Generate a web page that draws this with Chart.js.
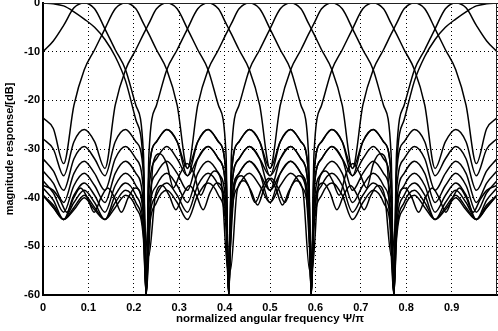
<!DOCTYPE html>
<html>
<head>
<meta charset="utf-8">
<script src="https://cdn.jsdelivr.net/npm/chart.js@4.4.0/dist/chart.umd.min.js"></script>
<style>
  html, body { margin: 0; padding: 0; background: #fff; }
  #chart { display: block; }
</style>
</head>
<body>
<canvas id="chart" width="498" height="331"></canvas>
<script>
// normalized angular frequency (psi / pi) sample points for the inner channels
const freqs = [0,0.0227,0.0455,0.0682,0.0909,0.1136,0.1364,0.1591,0.1818,0.2045,0.2213,0.2273,0.2333,0.25,0.2727,0.2955,0.3182,0.3409,0.3636,0.3864,0.4031,0.4091,0.4151,0.4318,0.4545,0.4773,0.5,0.5227,0.5455,0.5682,0.5849,0.5909,0.5969,0.6136,0.6364,0.6591,0.6818,0.7045,0.7273,0.75,0.7667,0.7727,0.7787,0.7955,0.8182,0.8409,0.8636,0.8864,0.9091,0.9318,0.9545,0.9773,1];

// sample points for the two edge channels (their sidelobes are narrower)
const edgeFreqsLo = [0,0.0227,0.0455,0.0682,0.0909,0.1136,0.1364,0.1591,0.1818,0.2045,0.2213,0.2273,0.2423,0.2573,0.2723,0.2873,0.3023,0.3173,0.3323,0.3473,0.3623,0.3773,0.3923,0.4073,0.4223,0.4373,0.4523,0.4673,0.4823,0.4973,0.5123,0.5273,0.5423,0.5573,0.5723,0.5873,0.6023,0.6173,0.6323,0.6473,0.6623,0.6773,0.6923,0.7073,0.7223,0.7373,0.7523,0.7673,0.7823,0.7973,0.8123,0.8273,0.8423,0.8573,0.8723,0.8873,0.9023,0.9173,0.9323,0.9473,0.9623,0.9773,1];
const edgeFreqsHi = [0,0.0227,0.0377,0.0527,0.0677,0.0827,0.0977,0.1127,0.1277,0.1427,0.1577,0.1727,0.1877,0.2027,0.2177,0.2327,0.2477,0.2627,0.2777,0.2927,0.3077,0.3227,0.3377,0.3527,0.3677,0.3827,0.3977,0.4127,0.4277,0.4427,0.4577,0.4727,0.4877,0.5027,0.5177,0.5327,0.5477,0.5627,0.5777,0.5927,0.6077,0.6227,0.6377,0.6527,0.6677,0.6827,0.6977,0.7127,0.7277,0.7427,0.7577,0.7727,0.7787,0.7955,0.8182,0.8409,0.8636,0.8864,0.9091,0.9318,0.9545,0.9773,1];

// magnitude response in dB, one array per channel
const band0 = [0,-0.15,-0.6,-1.8,-3.3,-5,-7.5,-11,-16,-24,-34,-60,-33,-31,-33,-38,-35,-33,-35,-39.5,-36.5,-34.5,-36.5,-55,-37.5,-35.5,-37.5,-41,-38,-36,-38,-41.5,-38.5,-36.5,-38.5,-55,-39,-37,-39,-42.5,-39.5,-37.5,-39.5,-42.5,-39.5,-37.5,-39.5,-52,-40,-38,-40,-43,-40,-38,-40,-43,-40,-38,-40,-43,-40.5,-38.5,-37.5];
const band1 = [-10,-7.8,-4.6,-1,0,-1.2,-5.3,-9.6,-13.7,-21,-31,-60,-35,-28.5,-26,-28.5,-35.5,-32,-29.5,-32,-38.5,-60,-41.5,-35,-32.5,-35,-41,-37.5,-35,-37.5,-44,-60,-46,-39.5,-37,-39.5,-44.5,-41,-38.5,-41,-47.5,-60,-48.5,-42,-39.5,-42,-44.5,-42.5,-40,-42.5,-44.5,-41.5,-39.5];
const band2 = [-23.6,-25.8,-33,-21,-13.7,-9.6,-5.3,-1.2,0,-1.2,-4.2,-5.3,-6.4,-9.6,-13.7,-21,-34,-28.5,-26,-28.5,-35,-60,-38.5,-32,-29.5,-32,-38.5,-35,-32.5,-35,-41.5,-60,-44,-37.5,-35,-37.5,-43,-39.5,-37,-39.5,-46,-60,-47.5,-41,-38.5,-41,-44.5,-42,-39.5,-42,-44.5,-42,-39.5];
const band3 = [-27.9,-30,-35.5,-28.5,-26,-28.5,-34,-21,-13.7,-9.6,-6.4,-5.3,-4.2,-1.2,0,-1.2,-5.3,-9.6,-13.7,-21,-31,-60,-35,-28.5,-26,-28.5,-35.5,-32,-29.5,-32,-38.5,-60,-41.5,-35,-32.5,-35,-41,-37.5,-35,-37.5,-44,-60,-46,-39.5,-37,-39.5,-44.5,-41,-38.5,-41,-44.5,-42,-39.5];
const band4 = [-32,-34.5,-38.5,-32,-29.5,-32,-35.5,-28.5,-26,-28.5,-35,-60,-31,-21,-13.7,-9.6,-5.3,-1.2,0,-1.2,-4.2,-5.3,-6.4,-9.6,-13.7,-21,-34,-28.5,-26,-28.5,-35,-60,-38.5,-32,-29.5,-32,-38.5,-35,-32.5,-35,-41.5,-60,-44,-37.5,-35,-37.5,-43,-39.5,-37,-39.5,-44.5,-40.5,-38];
const band5 = [-34.5,-37,-41,-35,-32.5,-35,-38.5,-32,-29.5,-32,-38.5,-60,-35,-28.5,-26,-28.5,-34,-21,-13.7,-9.6,-6.4,-5.3,-4.2,-1.2,0,-1.2,-5.3,-9.6,-13.7,-21,-31,-60,-35,-28.5,-26,-28.5,-35.5,-32,-29.5,-32,-38.5,-60,-41.5,-35,-32.5,-35,-41,-37.5,-35,-37.5,-43,-39,-36.5];
const band6 = [-36.5,-39,-43,-37.5,-35,-37.5,-41,-35,-32.5,-35,-41.5,-60,-38.5,-32,-29.5,-32,-35.5,-28.5,-26,-28.5,-35,-60,-31,-21,-13.7,-9.6,-5.3,-1.2,0,-1.2,-4.2,-5.3,-6.4,-9.6,-13.7,-21,-34,-28.5,-26,-28.5,-35,-60,-38.5,-32,-29.5,-32,-38.5,-35,-32.5,-35,-41,-37,-34.5];
const band7 = [-38,-40.5,-44.5,-39.5,-37,-39.5,-43,-37.5,-35,-37.5,-44,-60,-41.5,-35,-32.5,-35,-38.5,-32,-29.5,-32,-38.5,-60,-35,-28.5,-26,-28.5,-34,-21,-13.7,-9.6,-6.4,-5.3,-4.2,-1.2,0,-1.2,-5.3,-9.6,-13.7,-21,-31,-60,-35,-28.5,-26,-28.5,-35.5,-32,-29.5,-32,-38.5,-34.5,-32];
const band8 = [-39.5,-42,-44.5,-41,-38.5,-41,-44.5,-39.5,-37,-39.5,-46,-60,-44,-37.5,-35,-37.5,-41,-35,-32.5,-35,-41.5,-60,-38.5,-32,-29.5,-32,-35.5,-28.5,-26,-28.5,-35,-60,-31,-21,-13.7,-9.6,-5.3,-1.2,0,-1.2,-4.2,-5.3,-6.4,-9.6,-13.7,-21,-34,-28.5,-26,-28.5,-35.5,-30,-27.9];
const band9 = [-39.5,-42,-44.5,-42,-39.5,-42,-44.5,-41,-38.5,-41,-47.5,-60,-46,-39.5,-37,-39.5,-43,-37.5,-35,-37.5,-44,-60,-41.5,-35,-32.5,-35,-38.5,-32,-29.5,-32,-38.5,-60,-35,-28.5,-26,-28.5,-34,-21,-13.7,-9.6,-6.4,-5.3,-4.2,-1.2,0,-1.2,-5.3,-9.6,-13.7,-21,-33,-25.8,-23.6];
const band10 = [-39.5,-41.5,-44.5,-42.5,-40,-42.5,-44.5,-42,-39.5,-42,-48.5,-60,-47.5,-41,-38.5,-41,-44.5,-39.5,-37,-39.5,-46,-60,-44,-37.5,-35,-37.5,-41,-35,-32.5,-35,-41.5,-60,-38.5,-32,-29.5,-32,-35.5,-28.5,-26,-28.5,-35,-60,-31,-21,-13.7,-9.6,-5.3,-1.2,0,-1,-4.6,-7.8,-10];
const band11 = [-37.5,-38.5,-40.5,-43,-40,-38,-40,-43,-40,-38,-40,-43,-40,-38,-40,-52,-39.5,-37.5,-39.5,-42.5,-39.5,-37.5,-39.5,-42.5,-39,-37,-39,-55,-38.5,-36.5,-38.5,-41.5,-38,-36,-38,-41,-37.5,-35.5,-37.5,-55,-36.5,-34.5,-36.5,-39.5,-35,-33,-35,-38,-33,-31,-33,-60,-34,-24,-16,-11,-7.5,-5,-3.3,-1.8,-0.6,-0.15,0];

const channels = [
  [edgeFreqsLo, band0], [freqs, band1], [freqs, band2], [freqs, band3],
  [freqs, band4], [freqs, band5], [freqs, band6], [freqs, band7],
  [freqs, band8], [freqs, band9], [freqs, band10], [edgeFreqsHi, band11]
];

const xTicks = [0, 0.1, 0.2, 0.3, 0.4, 0.5, 0.6, 0.7, 0.8, 0.9, 1];
const yTicks = [0, -10, -20, -30, -40, -50, -60];

Chart.defaults.font.family = '"Liberation Sans", Arial, Helvetica, sans-serif';
Chart.defaults.color = '#000';

// top and right edge of the axes box
const frame = {
  id: 'frame',
  afterDatasetsDraw(chart) {
    const { ctx, chartArea: a } = chart;
    ctx.save();
    ctx.strokeStyle = '#222';
    ctx.lineWidth = 1;
    ctx.beginPath();
    ctx.moveTo(a.left, a.top + 0.5);
    ctx.lineTo(a.right, a.top + 0.5);
    ctx.moveTo(a.right - 0.5, a.top);
    ctx.lineTo(a.right - 0.5, a.bottom);
    ctx.stroke();
    ctx.restore();
  }
};

const ctx = document.getElementById('chart').getContext('2d');
new Chart(ctx, {
  type: 'line',
  data: {
    datasets: channels.map(([xs, ys]) => ({
      data: ys.map((y, i) => ({ x: xs[i], y: y })),
      borderColor: '#000',
      borderWidth: 1.5,
      pointRadius: 0,
      fill: false,
      cubicInterpolationMode: 'monotone'
    }))
  },
  options: {
    responsive: false,
    animation: false,
    devicePixelRatio: 1,
    layout: { padding: { top: 3, right: 1, left: 0, bottom: 0 } },
    plugins: { legend: { display: false }, tooltip: { enabled: false } },
    scales: {
      x: {
        type: 'linear',
        min: 0,
        max: 1,
        afterBuildTicks: s => { s.ticks = xTicks.map(v => ({ value: v })); },
        afterFit: s => { s.height = 36; s.paddingLeft = 0; s.paddingRight = 0; },
        ticks: {
          autoSkip: false,
          maxRotation: 0,
          padding: 6,
          font: { size: 11, weight: 'bold' },
          callback: v => (v === 0 ? '0' : v >= 1 ? '' : v.toFixed(1))
        },
        grid: { color: '#000', lineWidth: 1, drawTicks: false },
        border: { display: true, color: '#000', width: 2, dash: [1, 3] },
        title: {
          display: true,
          text: 'normalized angular frequency \u03A8/\u03C0',
          font: { size: 11.5, weight: 'bold' },
          padding: { top: 4, bottom: 5 }
        }
      },
      y: {
        min: -60,
        max: 0,
        afterBuildTicks: s => { s.ticks = yTicks.map(v => ({ value: v })); },
        afterFit: s => { s.width = 43; s.paddingTop = 0; s.paddingBottom = 0; },
        ticks: { padding: 3, font: { size: 11, weight: 'bold' }, callback: v => String(v) },
        grid: { color: '#000', lineWidth: 1, drawTicks: false },
        border: { display: true, color: '#000', width: 2, dash: [1, 3] },
        title: {
          display: true,
          text: 'magnitude response/[dB]',
          font: { size: 11, weight: 'bold' },
          padding: { top: 3, bottom: 2 }
        }
      }
    }
  },
  plugins: [frame]
});
</script>
</body>
</html>
